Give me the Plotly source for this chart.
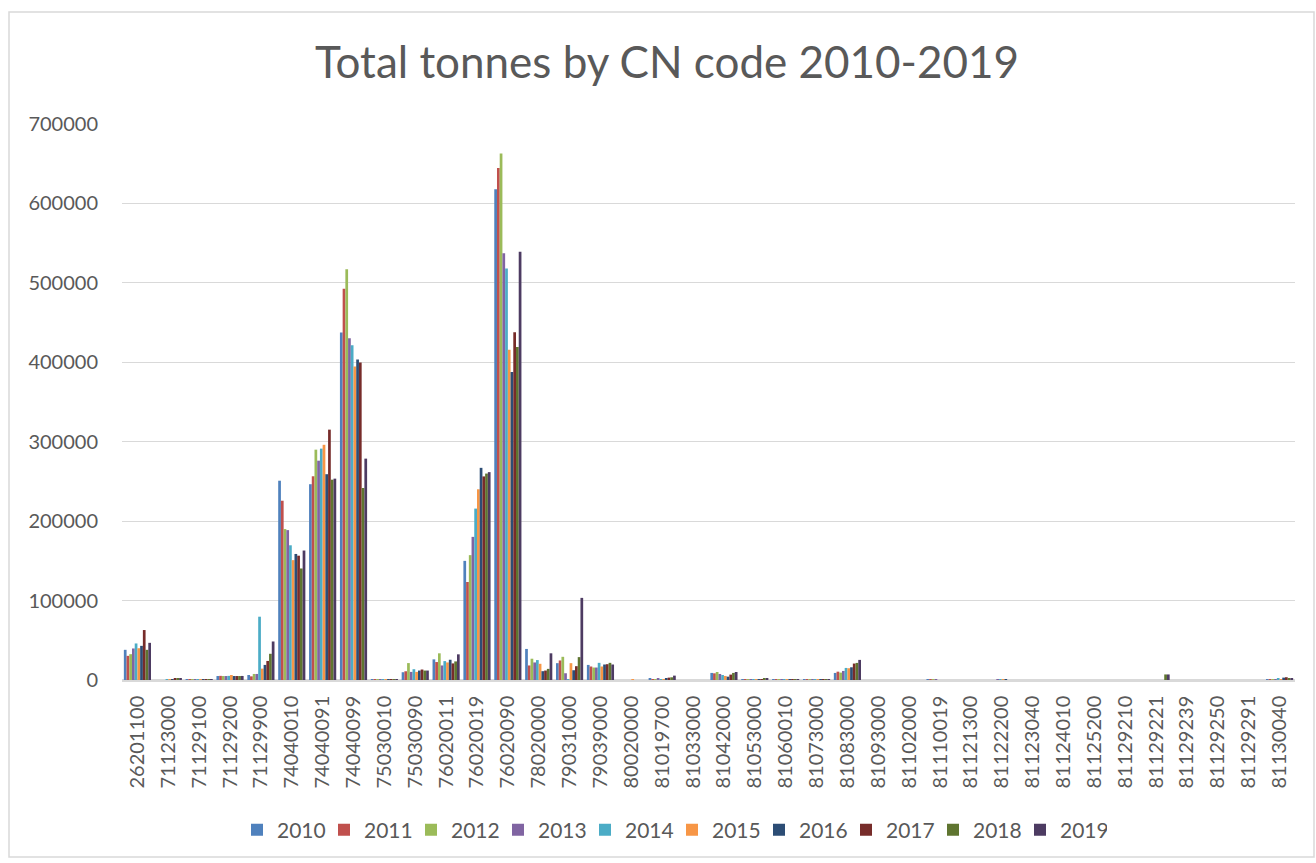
import plotly.graph_objects as go

categories = ["26201100", "71123000", "71129100", "71129200", "71129900", "74040010",
              "74040091", "74040099", "75030010", "75030090", "76020011", "76020019",
              "76020090", "78020000", "79031000", "79039000", "80020000", "81019700",
              "81033000", "81042000", "81053000", "81060010", "81073000", "81083000",
              "81093000", "81102000", "81110019", "81121300", "81122200", "81123040",
              "81124010", "81125200", "81129210", "81129221", "81129239", "81129250",
              "81129291", "81130040"]

years = ["2010", "2011", "2012", "2013", "2014", "2015", "2016", "2017", "2018", "2019"]

colors = ["#4F81BD", "#C0504D", "#9BBB59", "#8064A2", "#4BACC6",
          "#F79646", "#2C4D75", "#772C2A", "#5F7530", "#4D3B62"]

# values per year, one entry per CN code (same order as categories)
y2010 = [38000, 0, 300, 5000, 6300, 250900, 246500, 437400, 500, 9800, 26000, 150000,
         618000, 39100, 21200, 19000, 0, 1700, 0, 8900, 200, 300, 200, 8900,
         0, 0, 600, 0, 0, 0, 0, 0, 0, 0, 0, 0, 0, 500]
y2011 = [30400, 0, 200, 5200, 4600, 225700, 256500, 492600, 500, 11000, 22600, 123400,
         644600, 18300, 24600, 17000, 0, 500, 0, 8400, 300, 300, 200, 10500,
         0, 0, 600, 0, 0, 0, 0, 0, 0, 0, 0, 0, 0, 500]
y2012 = [32500, 0, 400, 5000, 7600, 190000, 290000, 517000, 500, 21300, 33600, 157200,
         663000, 26800, 29200, 15700, 0, 800, 0, 10100, 200, 300, 200, 9300,
         0, 0, 600, 0, 0, 0, 0, 0, 0, 0, 0, 0, 0, 700]
y2013 = [39700, 0, 200, 5000, 7600, 188700, 276100, 430400, 500, 10200, 18300, 180200,
         537400, 22100, 8500, 15700, 0, 1300, 0, 7600, 300, 300, 200, 11400,
         0, 0, 500, 0, 300, 0, 0, 0, 0, 0, 0, 0, 0, 700]
y2014 = [46000, 200, 300, 5200, 79700, 169600, 291300, 421300, 500, 13600, 23800, 215800,
         518000, 25100, 300, 21600, 0, 500, 0, 6300, 500, 300, 200, 15200,
         0, 0, 0, 0, 500, 0, 0, 0, 0, 0, 0, 0, 0, 1500]
y2015 = [40000, 300, 500, 6300, 14300, 150900, 296100, 394800, 600, 10200, 22100, 240100,
         415800, 20400, 21200, 17000, 600, 500, 0, 5100, 600, 300, 200, 14800,
         0, 0, 0, 0, 500, 0, 0, 0, 0, 0, 0, 0, 0, 1000]
y2016 = [43000, 800, 600, 5000, 19000, 158700, 259100, 403500, 600, 11900, 25500, 267100,
         387800, 11100, 12300, 19500, 0, 1300, 0, 4200, 800, 300, 200, 16000,
         0, 0, 0, 0, 300, 0, 0, 0, 0, 0, 0, 0, 0, 3000]
y2017 = [62900, 2000, 800, 5000, 24000, 156500, 315200, 399600, 600, 13200, 20900, 256300,
         437800, 11900, 17400, 19900, 0, 3000, 0, 6800, 1200, 300, 200, 20700,
         0, 0, 0, 0, 0, 0, 0, 0, 0, 0, 0, 0, 0, 3500]
y2018 = [38000, 2500, 700, 5000, 33000, 140400, 252200, 241700, 600, 11900, 23400, 259900,
         419400, 14000, 28800, 21600, 0, 3400, 0, 8900, 2500, 300, 200, 21500,
         0, 0, 0, 0, 0, 0, 0, 0, 0, 7000, 0, 0, 0, 2500]
y2019 = [46800, 1500, 1000, 5100, 48500, 163000, 253500, 278700, 600, 11900, 32300, 261700,
         539200, 33600, 103400, 19500, 0, 5500, 0, 10100, 2100, 300, 200, 25300,
         0, 0, 0, 0, 0, 0, 0, 0, 0, 7000, 0, 0, 0, 1500]

series = [y2010, y2011, y2012, y2013, y2014, y2015, y2016, y2017, y2018, y2019]

y_ticks = [0, 100000, 200000, 300000, 400000, 500000, 600000, 700000]
y_tick_text = ["0", "100000", "200000", "300000", "400000", "500000", "600000", "700000"]

FONT = "Lato, 'Open Sans', sans-serif"
TXT = "#595959"

fig = go.Figure()
for name, vals, col in zip(years, series, colors):
    fig.add_trace(go.Bar(name=name, x=categories, y=vals,
                         marker=dict(color=col, line=dict(width=0))))

W, H = 1316, 863
L, R, T, B = 122, 21, 124, 183
pw, ph = W - L - R, H - T - B

def px_x(x):
    return (x - L) / pw

def px_y(y):
    return (H - B - y) / ph

fig.update_layout(
    width=W, height=H, autosize=False,
    margin=dict(l=L, r=R, t=T, b=B),
    paper_bgcolor="white", plot_bgcolor="white",
    barmode="group", bargap=0.12, bargroupgap=0,
    font=dict(family=FONT, color=TXT, size=20),
    title=dict(text="Total tonnes by CN code 2010-2019", x=667 / W, xanchor="center",
               y=1 - 63 / H, yanchor="middle",
               font=dict(family=FONT, size=44, color=TXT)),
    xaxis=dict(type="category", tickangle=-90, showgrid=False,
               showline=True, linecolor="#D9D9D9", linewidth=1.5,
               ticks="", tickfont=dict(size=20, color=TXT), ticklen=0,
               ticklabelstandoff=6),
    yaxis=dict(range=[0, 700000], tickvals=y_ticks, ticktext=y_tick_text, showgrid=True,
               gridcolor="#D9D9D9", gridwidth=1.3, zeroline=True,
               zerolinecolor="#D9D9D9", zerolinewidth=1.5,
               tickfont=dict(size=20, color=TXT), ticks="", ticklabelstandoff=23),
    legend=dict(orientation="h", x=px_x(672), xanchor="center",
                y=px_y(830), yanchor="middle", font=dict(size=21, color=TXT),
                entrywidth=42, itemwidth=30, tracegroupgap=0),
    shapes=[dict(type="rect", xref="paper", yref="paper",
                 x0=px_x(9), x1=px_x(1314), y0=px_y(857), y1=px_y(12),
                 line=dict(color="#D9D9D9", width=1.5), fillcolor="rgba(0,0,0,0)",
                 layer="below")],
)

fig.write_html("out.html", config={"displayModeBar": False},
               post_script="document.body.style.margin='0';")
